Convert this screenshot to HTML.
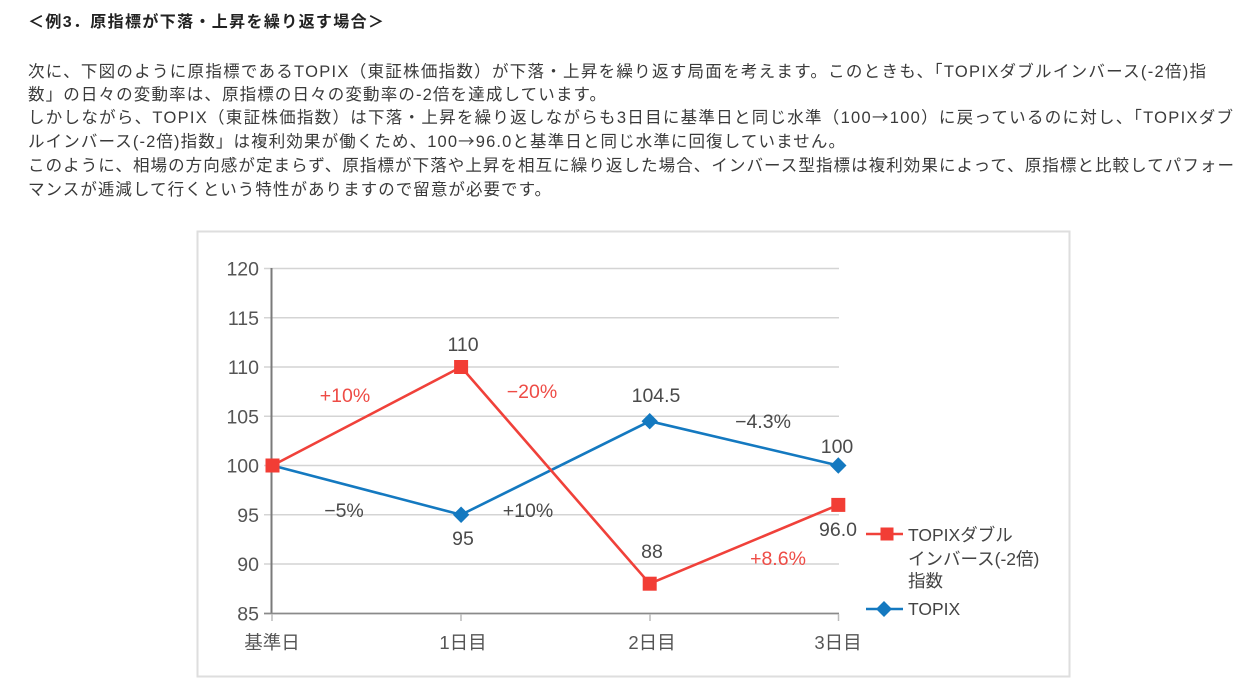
<!DOCTYPE html>
<html><head><meta charset="utf-8"><style>
html,body{margin:0;padding:0;background:#fff;}
svg{display:block;}
</style></head><body>
<svg width="1249" height="696" viewBox="0 0 1249 696" xmlns="http://www.w3.org/2000/svg">
<rect width="1249" height="696" fill="#fff"/>
<g font-family="'Liberation Sans','Noto Sans CJK JP',sans-serif">
<text x="28" y="27" font-size="16" font-weight="bold" fill="#222" textLength="356" lengthAdjust="spacing">＜例3．原指標が下落・上昇を繰り返す場合＞</text>
<g font-size="16.5" fill="#3a3a3a">
<text x="28" y="77" textLength="1178" lengthAdjust="spacing">次に、下図のように原指標であるTOPIX（東証株価指数）が下落・上昇を繰り返す局面を考えます。このときも、「TOPIXダブルインバース(-2倍)指</text>
<text x="28" y="100" textLength="578" lengthAdjust="spacing">数」の日々の変動率は、原指標の日々の変動率の-2倍を達成しています。</text>
<text x="28" y="123" textLength="1205" lengthAdjust="spacing">しかしながら、TOPIX（東証株価指数）は下落・上昇を繰り返しながらも3日目に基準日と同じ水準（100<tspan font-family="'Noto Sans CJK JP',sans-serif">→</tspan>100）に戻っているのに対し、「TOPIXダブ</text>
<text x="28" y="147" textLength="817" lengthAdjust="spacing">ルインバース(-2倍)指数」は複利効果が働くため、100<tspan font-family="'Noto Sans CJK JP',sans-serif">→</tspan>96.0と基準日と同じ水準に回復していません。</text>
<text x="28" y="171" textLength="1206" lengthAdjust="spacing">このように、相場の方向感が定まらず、原指標が下落や上昇を相互に繰り返した場合、インバース型指標は複利効果によって、原指標と比較してパフォー</text>
<text x="28" y="195" textLength="523" lengthAdjust="spacing">マンスが逓減して行くという特性がありますので留意が必要です。</text>
</g>
</g>

<!-- chart frame -->
<rect x="197.5" y="231.5" width="872" height="445" fill="#fff" stroke="#dedede" stroke-width="2"/>

<!-- gridlines -->
<g stroke="#d4d4d4" stroke-width="1.5">
<line x1="264" y1="268.5" x2="839" y2="268.5"/>
<line x1="264" y1="317.8" x2="839" y2="317.8"/>
<line x1="264" y1="367" x2="839" y2="367"/>
<line x1="264" y1="416.3" x2="839" y2="416.3"/>
<line x1="264" y1="465.5" x2="839" y2="465.5"/>
<line x1="264" y1="514.8" x2="839" y2="514.8"/>
<line x1="264" y1="564" x2="839" y2="564"/>
</g>
<!-- axes -->
<line x1="271.5" y1="268" x2="271.5" y2="614" stroke="#7a7a7a" stroke-width="2"/>
<line x1="264" y1="613.5" x2="839" y2="613.5" stroke="#8a8a8a" stroke-width="1.8"/>
<g stroke="#bbb" stroke-width="1.5">
<line x1="272" y1="614" x2="272" y2="621"/>
<line x1="461" y1="614" x2="461" y2="621"/>
<line x1="650" y1="614" x2="650" y2="621"/>
<line x1="838.5" y1="614" x2="838.5" y2="621"/>
</g>

<!-- y tick labels -->
<g font-family="'Liberation Sans','Noto Sans CJK JP',sans-serif" font-size="19.5" fill="#555" text-anchor="end">
<text x="259" y="275.5">120</text>
<text x="259" y="324.8">115</text>
<text x="259" y="374">110</text>
<text x="259" y="423.3">105</text>
<text x="259" y="472.5">100</text>
<text x="259" y="521.8">95</text>
<text x="259" y="571">90</text>
<text x="259" y="620.5">85</text>
</g>
<!-- x labels -->
<g font-family="'Liberation Sans','Noto Sans CJK JP',sans-serif" font-size="18.5" fill="#555" text-anchor="middle">
<text x="272" y="649">基準日</text>
<text x="463" y="649">1日目</text>
<text x="652" y="649">2日目</text>
<text x="838" y="649">3日目</text>
</g>

<!-- TOPIX blue -->
<polyline points="272.5,465.5 461.1,514.75 649.7,421.2 838.3,465.5" fill="none" stroke="#1479c0" stroke-width="2.6" stroke-linejoin="round"/>
<g fill="#1479c0">
<polygon points="461.1,506.5 469.3,514.75 461.1,523 452.9,514.75"/>
<polygon points="649.7,413 657.9,421.2 649.7,429.4 641.5,421.2"/>
<polygon points="838.3,457.3 846.5,465.5 838.3,473.7 830.1,465.5"/>
</g>

<!-- red series -->
<polyline points="272.5,465.5 461.1,367 649.7,583.7 838.3,504.9" fill="none" stroke="#f0413a" stroke-width="2.6" stroke-linejoin="round"/>
<g fill="#f23d35">
<rect x="265.5" y="458.5" width="14" height="14"/>
<rect x="454.1" y="360" width="14" height="14"/>
<rect x="642.7" y="576.7" width="14" height="14"/>
<rect x="831.3" y="497.9" width="14" height="14"/>
</g>

<!-- data labels -->
<g font-family="'Liberation Sans','Noto Sans CJK JP',sans-serif" font-size="19.5" fill="#4a4a4a" text-anchor="middle">
<text x="463" y="351">110</text>
<text x="344" y="517">−5%</text>
<text x="463" y="545">95</text>
<text x="528" y="517">+10%</text>
<text x="656" y="402">104.5</text>
<text x="763" y="428">−4.3%</text>
<text x="837" y="453">100</text>
<text x="838" y="536">96.0</text>
<text x="652" y="558">88</text>
</g>
<g font-family="'Liberation Sans','Noto Sans CJK JP',sans-serif" font-size="19.5" fill="#ee4c46" text-anchor="middle">
<text x="345" y="402">+10%</text>
<text x="532" y="398">−20%</text>
<text x="778" y="565">+8.6%</text>
</g>

<!-- legend -->
<line x1="866" y1="534" x2="903" y2="534" stroke="#f0413a" stroke-width="2.6"/>
<rect x="880.5" y="527.5" width="13" height="13" fill="#f23d35"/>
<line x1="866" y1="609" x2="903" y2="609" stroke="#1479c0" stroke-width="2.6"/>
<polygon points="884,601 892,609 884,617 876,609" fill="#1479c0"/>
<g font-family="'Liberation Sans','Noto Sans CJK JP',sans-serif" font-size="17.5" fill="#444">
<text x="908" y="541">TOPIXダブル</text>
<text x="908" y="565">インバース(-2倍)</text>
<text x="908" y="587">指数</text>
<text x="908" y="615">TOPIX</text>
</g>
</svg>
</body></html>
